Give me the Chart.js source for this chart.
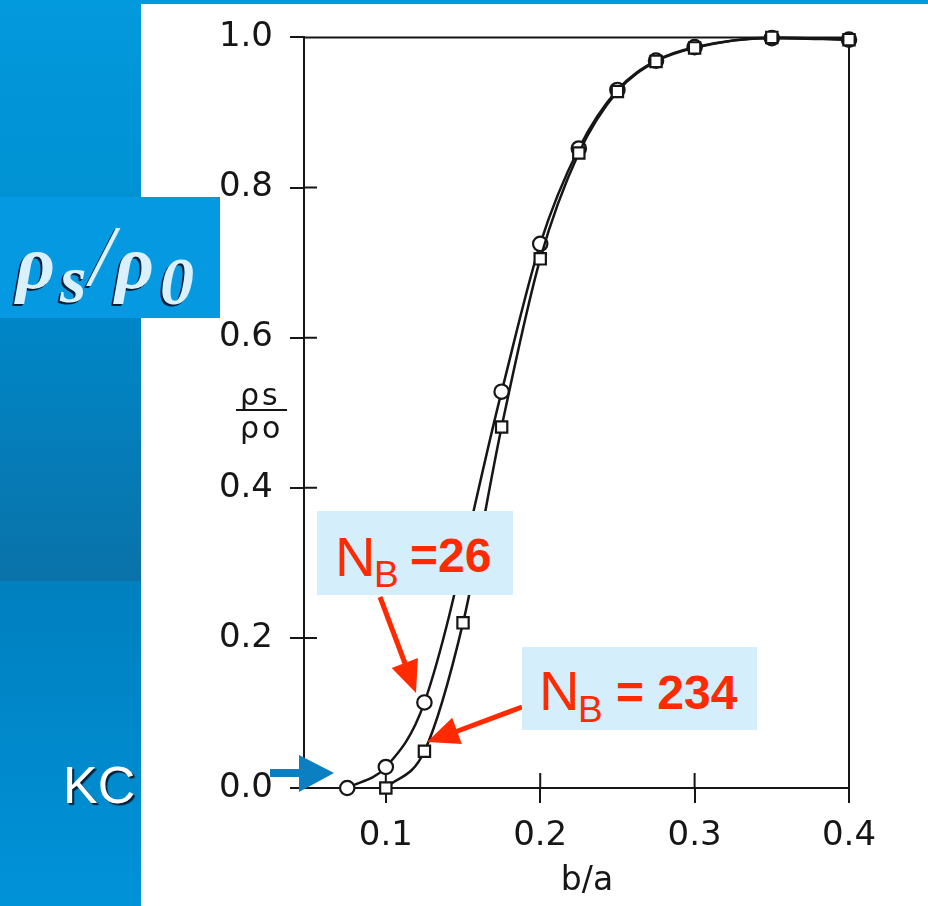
<!DOCTYPE html>
<html><head><meta charset="utf-8">
<script src="https://cdn.jsdelivr.net/npm/chart.js@4/dist/chart.umd.min.js"></script>
<style>
html,body{margin:0;padding:0;background:#fff;width:928px;height:906px;overflow:hidden;position:relative;font-family:"Liberation Sans",Arial,sans-serif}
#topbar{position:absolute;left:0;top:0;width:928px;height:4px;background:#0399dd;z-index:0}
#panelA{position:absolute;left:0;top:0;width:141px;height:581px;background:linear-gradient(#0399dc 0%,#0092d3 34%,#0086c7 56%,#0a72a9 100%);z-index:0}
#panelB{position:absolute;left:0;top:581px;width:141px;height:325px;background:linear-gradient(#0080bf,#0092d8);z-index:0}
#wrap{position:absolute;left:0;top:0;width:928px;height:906px;z-index:1}
.ov{position:absolute;z-index:3;white-space:nowrap;line-height:1}
#rhoBox{position:absolute;left:0;top:197px;width:220px;height:121px;background:#0499e0;z-index:3}
.big{position:absolute;font-family:"Liberation Serif","Times New Roman",serif;font-style:italic;font-weight:bold;color:#d8f1fc;text-shadow:-2px 2px 0 #00203a,-1px 1px 0 #00203a;line-height:1;white-space:nowrap}
.box{position:absolute;background:#d4eefc;z-index:3}
.box span{position:absolute;color:#ff2a00;line-height:1;white-space:nowrap;font-family:"Liberation Sans",Arial,sans-serif}
.frac{position:absolute;font-family:"DejaVu Sans",sans-serif;color:#151515;line-height:1;white-space:nowrap;z-index:3}
</style></head>
<body>
<div id="panelA"></div><div id="panelB"></div><div id="topbar"></div>
<div id="wrap"><canvas id="c" width="928" height="906"></canvas></div>

<div id="rhoBox">
  <span class="big" style="left:16px;top:27px;font-size:76px">ρ</span>
  <span class="big" style="left:60px;top:48px;font-size:68px">s</span>
  <span class="big" style="left:90px;top:16px;font-size:86px;font-weight:normal">/</span>
  <span class="big" style="left:115px;top:27px;font-size:76px">ρ</span>
  <span class="big" style="left:160px;top:50px;font-size:68px">0</span>
</div>

<div class="ov" style="left:63px;top:759px;font-size:52px;color:#fff;text-shadow:2px 2px 1px #00203a">KC</div>

<div class="frac" style="left:240px;top:380px;font-size:30px;letter-spacing:3px">ρs</div>
<div style="position:absolute;left:236px;top:409px;width:51px;height:2px;background:#151515;z-index:3"></div>
<div class="frac" style="left:240px;top:413px;font-size:30px;letter-spacing:3px">ρo</div>

<div class="box" style="left:317px;top:511px;width:196px;height:84px">
  <span style="left:18px;top:18px;font-size:56px">N</span>
  <span style="left:57px;top:45px;font-size:37px">B</span>
  <span style="left:93px;top:21px;font-size:48px;font-weight:bold">=26</span>
</div>
<div class="box" style="left:522px;top:647px;width:235px;height:83px">
  <span style="left:17px;top:16px;font-size:56px">N</span>
  <span style="left:56px;top:44px;font-size:37px">B</span>
  <span style="left:94px;top:22px;font-size:48px;font-weight:bold">= 234</span>
</div>

<svg width="928" height="906" style="position:absolute;left:0;top:0;z-index:2;pointer-events:none">
  <line x1="380" y1="597" x2="406" y2="666" stroke="#ff2a00" stroke-width="5"/>
  <polygon points="416,693 391.7,667.9 417.9,658.1" fill="#ff2a00"/>
  <line x1="522" y1="707" x2="455" y2="732" stroke="#ff2a00" stroke-width="5"/>
  <polygon points="427,742 452.2,717.8 461.8,744" fill="#ff2a00"/>
  <rect x="270" y="769" width="31" height="8" fill="#0a7fc2"/>
  <polygon points="299,755 299,792 334,773" fill="#0a7fc2"/>
</svg>

<script>
// N_B = 26 (circles)
const xCircle = [0.075, 0.1, 0.125, 0.175, 0.2, 0.225, 0.25, 0.275, 0.3, 0.35, 0.4];
const yCircle = [0.0, 0.028, 0.114, 0.528, 0.725, 0.852, 0.93, 0.969, 0.987, 0.999, 0.997];
// N_B = 234 (squares)
const xSquare = [0.1, 0.125, 0.15, 0.175, 0.2, 0.225, 0.25, 0.275, 0.3, 0.35, 0.4];
const ySquare = [0.0, 0.049, 0.22, 0.481, 0.705, 0.846, 0.928, 0.968, 0.986, 1.0, 0.997];
const xTicks = [0.1, 0.2, 0.3, 0.4];
const yTicks = [0.0, 0.2, 0.4, 0.6, 0.8, 1.0];
const xLabel = "b/a";

const INK = '#161616';
const toPts = (xs, ys) => xs.map((x, i) => ({x, y: ys[i]}));

const framePlugin = {
  id: 'frame',
  beforeDatasetsDraw(chart) {
    const {ctx, chartArea: a, scales: {x, y}} = chart;
    ctx.save();
    ctx.strokeStyle = INK; ctx.lineWidth = 2;
    ctx.beginPath();
    ctx.moveTo(a.left, a.top); ctx.lineTo(a.right, a.top); ctx.lineTo(a.right, a.bottom);
    y.ticks.forEach(t => { const p = y.getPixelForValue(t.value); ctx.moveTo(a.left, p); ctx.lineTo(a.left + 13, p); });
    x.ticks.forEach(t => { const p = x.getPixelForValue(t.value); ctx.moveTo(p, a.bottom); ctx.lineTo(p, a.bottom - 15); });
    ctx.stroke();
    ctx.restore();
  }
};

const common = {
  showLine: true, borderColor: INK, borderWidth: 2.5, cubicInterpolationMode: 'monotone',
  pointBackgroundColor: '#fff', pointBorderColor: INK, pointBorderWidth: 2.2, clip: false
};

new Chart(document.getElementById('c'), {
  type: 'scatter',
  data: { datasets: [
    Object.assign({label: 'N_B = 234', data: toPts(xSquare, ySquare), pointStyle: 'rect', pointRadius: 8}, common),
    Object.assign({label: 'N_B = 26', data: toPts(xCircle, yCircle), pointStyle: 'circle', pointRadius: 7.2}, common)
  ]},
  options: {
    responsive: false, animation: false, devicePixelRatio: 1,
    layout: { padding: {left: 141, right: 79, top: 36, bottom: 0} },
    plugins: { legend: {display: false}, tooltip: {enabled: false} },
    scales: {
      x: {
        type: 'linear', min: 0.047, max: 0.4,
        afterFit: s => { s.height = 118; },
        afterBuildTicks: s => { s.ticks = xTicks.map(v => ({value: v})); },
        border: {display: true, color: INK, width: 2},
        grid: {drawOnChartArea: false, drawTicks: true, tickLength: 15, color: INK, lineWidth: 2},
        ticks: {color: INK, padding: 13, font: {family: 'DejaVu Sans', size: 34}, maxRotation: 0,
                callback: v => v.toFixed(1)},
        title: {display: true, text: '  ' + xLabel, color: INK, font: {family: 'DejaVu Sans', size: 33}, padding: {top: 0, bottom: 5}}
      },
      y: {
        type: 'linear', min: 0, max: 1.0,
        afterFit: s => { s.width = 163; },
        afterBuildTicks: s => { s.ticks = yTicks.map(v => ({value: v})); },
        border: {display: true, color: INK, width: 2},
        grid: {drawOnChartArea: false, drawTicks: true, tickLength: 14, color: INK, lineWidth: 2},
        ticks: {color: INK, padding: 17, font: {family: 'DejaVu Sans', size: 34},
                callback: v => v.toFixed(1)}
      }
    }
  },
  plugins: [framePlugin]
});
</script>
</body></html>
